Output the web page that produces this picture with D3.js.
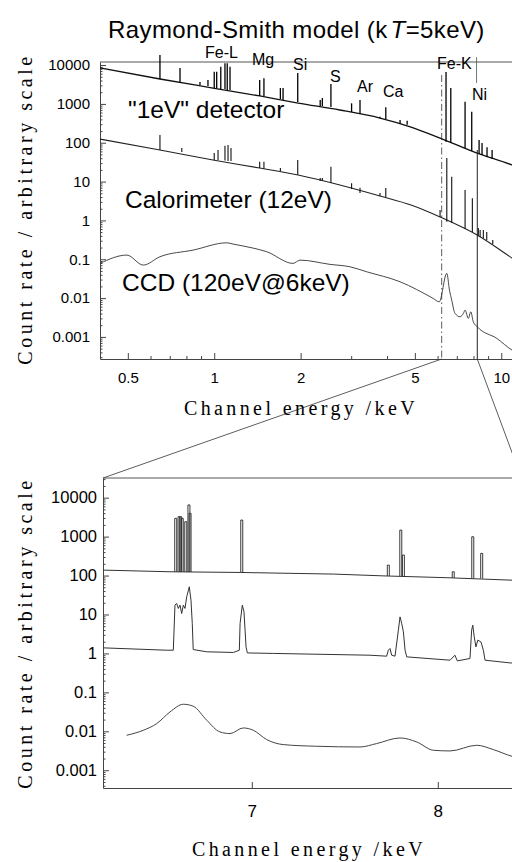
<!DOCTYPE html>
<html>
<head>
<meta charset="utf-8">
<script src="https://cdn.jsdelivr.net/npm/d3@7"></script>
<style>
  body { margin: 0; background: #fff; }
  svg { display: block; }
  .sans { font-family: "Liberation Sans", Arial, sans-serif; }
  .serif { font-family: "Liberation Serif", "Times New Roman", serif; }
</style>
</head>
<body>
<div id="chart"></div>
<script>
// ---- values ----

// upper panel, full band (keV, log-log)
var topEnergy     = [0.4, 0.647, 0.99, 1.44, 1.96, 2.74, 3.78, 4.85, 6.12, 8.24, 10.9, 12.0];
var top1eVCont    = [8500, 4380, 2560, 1600, 1050, 697, 433, 254, 132, 54, 26.7, 19.8];
var topCalCont    = [124, 64.9, 35.9, 22.3, 14.7, 8.14, 4.24, 2.48, 1.22, 0.419, 0.107, 0.0667];

// [energy, base, peak]
var top1eVLines = [
  [0.647, 4380, 18200], [0.760, 3660, 8400], [0.892, 3070, 3660], [0.951, 2890, 4120],
  [1.00, 2560, 6740], [1.02, 2560, 6740], [1.054, 2420, 9080], [1.09, 2420, 11100],
  [1.11, 2280, 11100], [1.135, 2280, 9080], [1.44, 1600, 4120], [1.49, 1600, 4560],
  [1.70, 1340, 2560], [1.737, 1260, 2560], [1.954, 1120, 6250], [2.34, 883, 1260],
  [2.38, 883, 1420], [2.55, 832, 3250], [3.01, 618, 1035], [3.22, 548, 1260],
  [3.78, 433, 470], [3.96, 408, 817], [4.44, 303, 385], [4.70, 290, 370],
  [6.42, 106, 6600], [6.67, 98, 2560], [7.48, 73, 1140], [7.89, 61, 630],
  [8.37, 51, 117], [8.57, 48, 98], [8.92, 43, 77], [9.29, 38, 65]
];
var topCalLines = [
  [0.647, 64.9, 158], [0.771, 57.7, 73], [1.00, 36, 54.3], [1.031, 36, 64.9],
  [1.09, 35, 83.7], [1.117, 34, 87.3], [1.144, 34, 73], [1.44, 22.3, 32.4],
  [1.49, 21.5, 32.4], [1.70, 18.7, 22.3], [1.954, 15, 35.9], [2.34, 10.3, 12.3],
  [2.38, 10.3, 12.3], [2.55, 9.16, 24.1], [3.01, 6.43, 9.0], [3.22, 5.06, 6.9],
  [3.78, 4.24, 5.06], [3.96, 3.99, 6.81], [6.12, 1.22, 1.85], [6.46, 0.923, 40.4],
  [6.72, 0.855, 13.3], [7.48, 0.598, 6.05], [7.93, 0.501, 3.70], [8.32, 0.395, 0.635],
  [8.44, 0.372, 0.564], [8.66, 0.351, 0.564], [8.90, 0.312, 0.501], [9.34, 0.246, 0.312]
];
var topCCD = [
  [0.4, 0.0782], [0.496, 0.128], [0.566, 0.0708], [0.647, 0.116], [0.844, 0.172],
  [1.106, 0.265], [1.163, 0.246], [1.365, 0.194], [1.524, 0.156], [1.881, 0.0782],
  [1.99, 0.095], [2.532, 0.0738], [2.97, 0.064], [3.40, 0.0475], [4.44, 0.0263],
  [5.79, 0.00982], [6.08, 0.00802], [6.46, 0.0433], [6.60, 0.0161], [6.72, 0.00887],
  [6.90, 0.00404], [7.19, 0.0033], [7.38, 0.00404], [7.48, 0.00491], [7.68, 0.0030],
  [7.83, 0.00444], [7.99, 0.00245], [8.25, 0.00182], [9.65, 0.000914], [10.9, 0.000457],
  [12.0, 0.00032]
];

// lower panel, Fe-K band (keV, linear)
var bot1eVBase = [[6.2, 138], [6.56, 125], [6.94, 120], [7.44, 109], [7.71, 98], [8.05, 88], [8.40, 76], [8.45, 75]];
var bot1eVLines = [
  [6.591, 125, 2940], [6.609, 125, 3240], [6.618, 125, 3240], [6.626, 125, 2940],
  [6.645, 124, 2410], [6.662, 124, 6500], [6.668, 124, 3960], [6.946, 120, 2660],
  [7.734, 98, 185], [7.801, 97, 1470], [7.815, 97, 336], [8.083, 87, 125],
  [8.188, 85, 990], [8.236, 84, 371]
];
var botCal = [
  [6.20, 1.39], [6.542, 1.21], [6.578, 1.21], [6.587, 17.4], [6.596, 19.2], [6.605, 14.3],
  [6.614, 17.4], [6.623, 10.6], [6.632, 17.4], [6.641, 14.3], [6.650, 28.4], [6.664, 51.4],
  [6.673, 23.4], [6.680, 5.89], [6.685, 1.26], [6.758, 1.10], [6.901, 1.06], [6.933, 1.21],
  [6.937, 5.89], [6.949, 17.4], [6.958, 11.7], [6.969, 1.47], [6.976, 1.03], [7.116, 1.00],
  [7.635, 0.90], [7.725, 0.85], [7.734, 1.21], [7.743, 1.34], [7.752, 0.90], [7.770, 0.85],
  [7.788, 3.96], [7.797, 8.69], [7.806, 5.89], [7.815, 3.58], [7.824, 1.21], [7.833, 0.815],
  [8.066, 0.670], [8.092, 0.90], [8.105, 0.643], [8.173, 0.741], [8.182, 3.96], [8.188, 5.32],
  [8.196, 2.66], [8.205, 1.47], [8.215, 2.19], [8.232, 1.98], [8.245, 1.21], [8.254, 0.670],
  [8.388, 0.571], [8.45, 0.55]
];
var botCCD = [
  [6.327, 0.00791], [6.417, 0.01064], [6.489, 0.0158], [6.560, 0.0314], [6.632, 0.0495],
  [6.685, 0.0441], [6.758, 0.0192], [6.829, 0.00962], [6.883, 0.00875], [6.954, 0.0122],
  [7.008, 0.01064], [7.080, 0.00614], [7.169, 0.00456], [7.349, 0.00413], [7.582, 0.00396],
  [7.671, 0.00484], [7.797, 0.00675], [7.887, 0.00532], [7.976, 0.00326], [8.066, 0.00313],
  [8.209, 0.00438], [8.298, 0.0034], [8.399, 0.00228], [8.45, 0.0020]
];

// ticks and labels
var yTickValues = [1e4, 1e3, 1e2, 10, 1, 0.1, 0.01, 0.001];
var yTickLabels = ["10000", "1000", "100", "10", "1", "0.1", "0.01", "0.001"];
var topXTicks = [0.5, 1, 2, 5, 10];
var topXTickLabels = ["0.5", "1", "2", "5", "10"];
var botXTicks = [7, 8];
var botXTickLabels = ["7", "8"];
var zoomEdges = [6.2, 8.25];          // band marked on the upper panel
var zoomMarkerTops = [5550, 65];      // where the marker lines start
var elementLabels = [
  ["Fe-L", 205, 58], ["Mg", 252, 65], ["Si", 293, 70], ["S", 330, 82],
  ["Ar", 357, 92], ["Ca", 383, 97], ["Fe-K", 437, 69], ["Ni", 472, 100]
];

// ---- layout ----
var svg = d3.select("#chart").append("svg")
  .attr("width", 512)
  .attr("height", 862);

var xTop = d3.scaleLog().domain([0.4, 12]).range([100, 524]);
var yTop = d3.scaleLog().domain([2.7e-4, 1.2e4]).range([359, 62]);
var xBot = d3.scaleLinear().domain([6.2, 8.45]).range([103, 521.5]);
var yBot = d3.scaleLog().domain([3.5e-4, 3.2e4]).range([788, 478]);

function minorLogTicks(scale) {
  var dom = scale.domain(), out = [];
  for (var k = -5; k <= 5; k++) {
    for (var m = 2; m <= 9; m++) {
      var v = m * Math.pow(10, k);
      if (v >= dom[0] && v <= dom[1]) out.push(v);
    }
  }
  return out;
}

function styleAxis(g, size) {
  g.attr("font-family", "Liberation Sans, Arial, sans-serif")
   .attr("font-size", size)
   .attr("color", "#000");
  g.selectAll("path").attr("stroke", "#444");
  g.selectAll("line").attr("stroke", "#444");
}

function drawFrame(x, y, opts) {
  var x0 = x.range()[0], x1 = x.range()[1], y0 = y.range()[0], y1 = y.range()[1];

  // top frame line
  svg.append("line")
    .attr("x1", x0).attr("x2", x1).attr("y1", y1).attr("y2", y1)
    .attr("stroke", "#555").attr("stroke-width", 1);

  // left axis, majors with labels
  var gy = svg.append("g")
    .attr("transform", "translate(" + x0 + ",0)")
    .call(d3.axisLeft(y).tickValues(yTickValues).tickSize(-6).tickSizeOuter(0)
      .tickPadding(opts.yPad)
      .tickFormat(function(d, i) { return yTickLabels[i]; }));
  styleAxis(gy, opts.yFont);

  // left axis, minors
  var gym = svg.append("g")
    .attr("transform", "translate(" + x0 + ",0)")
    .call(d3.axisLeft(y).tickValues(minorLogTicks(y)).tickSize(-2.5).tickSizeOuter(0).tickFormat(""));
  styleAxis(gym, opts.yFont);
  gym.select(".domain").remove();

  // bottom axis
  var gx = svg.append("g")
    .attr("transform", "translate(0," + y0 + ")")
    .call(d3.axisBottom(x).tickValues(opts.xTicks).tickSize(-6).tickSizeOuter(0)
      .tickPadding(opts.xPad)
      .tickFormat(function(d, i) { return opts.xLabels[i]; }));
  styleAxis(gx, opts.xFont);

  if (opts.xMinor) {
    var gxm = svg.append("g")
      .attr("transform", "translate(0," + y0 + ")")
      .call(d3.axisBottom(x).tickValues(opts.xMinor).tickSize(-3).tickSizeOuter(0).tickFormat(""));
    styleAxis(gxm, opts.xFont);
    gxm.select(".domain").remove();
  }
}

// top panel frame
drawFrame(xTop, yTop, {
  yPad: 10, yFont: 15, xPad: 13, xFont: 15,
  xTicks: topXTicks, xLabels: topXTickLabels,
  xMinor: xTop.ticks().filter(function(d) { return topXTicks.indexOf(d) < 0; })
});

// bottom panel frame
drawFrame(xBot, yBot, {
  yPad: 6, yFont: 16.5, xPad: 17, xFont: 17,
  xTicks: botXTicks, xLabels: botXTickLabels
});

// ---- upper panel curves ----
var lineTop = d3.line()
  .x(function(d) { return xTop(d[0]); })
  .y(function(d) { return yTop(d[1]); })
  .curve(d3.curveMonotoneX);

svg.append("path")
  .datum(topEnergy.map(function(e, i) { return [e, top1eVCont[i]]; }))
  .attr("d", lineTop)
  .attr("fill", "none").attr("stroke", "#111").attr("stroke-width", 1.3);

svg.append("path")
  .datum(topEnergy.map(function(e, i) { return [e, topCalCont[i]]; }))
  .attr("d", lineTop)
  .attr("fill", "none").attr("stroke", "#222").attr("stroke-width", 1.1);

svg.append("path")
  .datum(topCCD)
  .attr("d", lineTop)
  .attr("fill", "none").attr("stroke", "#333").attr("stroke-width", 0.9);

svg.append("g").selectAll("line")
  .data(top1eVLines)
  .join("line")
  .attr("x1", function(d) { return xTop(d[0]); })
  .attr("x2", function(d) { return xTop(d[0]); })
  .attr("y1", function(d) { return yTop(d[1]); })
  .attr("y2", function(d) { return yTop(d[2]); })
  .attr("stroke", "#000").attr("stroke-width", 1.3);

svg.append("g").selectAll("line")
  .data(topCalLines)
  .join("line")
  .attr("x1", function(d) { return xTop(d[0]); })
  .attr("x2", function(d) { return xTop(d[0]); })
  .attr("y1", function(d) { return yTop(d[1]); })
  .attr("y2", function(d) { return yTop(d[2]); })
  .attr("stroke", "#111").attr("stroke-width", 1.1);

// band markers and the connectors to the lower panel
svg.append("line")
  .attr("x1", xTop(zoomEdges[0])).attr("x2", xTop(zoomEdges[0]))
  .attr("y1", yTop(zoomMarkerTops[0])).attr("y2", yTop.range()[0])
  .attr("stroke", "#333").attr("stroke-width", 0.8)
  .style("stroke-dasharray", "7,3,1.5,3");

svg.append("line")
  .attr("x1", xTop(zoomEdges[1])).attr("x2", xTop(zoomEdges[1]))
  .attr("y1", yTop(zoomMarkerTops[1])).attr("y2", yTop.range()[0])
  .attr("stroke", "#222").attr("stroke-width", 1);

// leader between Fe-K and Ni
svg.append("line")
  .attr("x1", xTop(8.2)).attr("x2", xTop(8.2))
  .attr("y1", yTop(16000)).attr("y2", yTop(3450))
  .attr("stroke", "#555").attr("stroke-width", 0.8);

svg.append("line")
  .attr("x1", xTop(zoomEdges[0])).attr("y1", yTop.range()[0])
  .attr("x2", xBot.range()[0]).attr("y2", yBot.range()[1])
  .attr("stroke", "#333").attr("stroke-width", 0.8);

svg.append("line")
  .attr("x1", xTop(zoomEdges[1])).attr("y1", yTop.range()[0])
  .attr("x2", xBot.range()[1]).attr("y2", yBot.range()[1])
  .attr("stroke", "#333").attr("stroke-width", 0.8);

// ---- lower panel curves ----
var lineBot = d3.line()
  .x(function(d) { return xBot(d[0]); })
  .y(function(d) { return yBot(d[1]); });

svg.append("path")
  .datum(bot1eVBase)
  .attr("d", lineBot)
  .attr("fill", "none").attr("stroke", "#333").attr("stroke-width", 1);

svg.append("g").selectAll("path")
  .data(bot1eVLines)
  .join("path")
  .attr("d", function(d) {
    var x = xBot(d[0]), b = yBot(d[1]), t = yBot(d[2]);
    return "M" + (x - 1) + "," + b + "V" + t + "H" + (x + 1) + "V" + b;
  })
  .attr("fill", "none").attr("stroke", "#222").attr("stroke-width", 0.9);

svg.append("path")
  .datum(botCal)
  .attr("d", lineBot)
  .attr("fill", "none").attr("stroke", "#333").attr("stroke-width", 1);

svg.append("path")
  .datum(botCCD)
  .attr("d", lineBot.curve(d3.curveMonotoneX))
  .attr("fill", "none").attr("stroke", "#444").attr("stroke-width", 1);

// ---- text ----
var title = svg.append("text")
  .attr("class", "sans")
  .attr("x", 108).attr("y", 38)
  .attr("font-size", 24)
  .attr("letter-spacing", 0.4);
title.append("tspan").text("Raymond-Smith model (k");
title.append("tspan").attr("dx", 3).attr("font-style", "italic").text("T");
title.append("tspan").text("=5keV)");

svg.append("g").selectAll("text")
  .data(elementLabels)
  .join("text")
  .attr("class", "sans")
  .attr("x", function(d) { return d[1]; })
  .attr("y", function(d) { return d[2]; })
  .attr("font-size", 16)
  .text(function(d) { return d[0]; });

svg.append("text").attr("class", "sans")
  .attr("x", 128).attr("y", 118).attr("font-size", 24.5)
  .text("\"1eV\" detector");

svg.append("text").attr("class", "sans")
  .attr("x", 125).attr("y", 208).attr("font-size", 24.5)
  .text("Calorimeter (12eV)");

svg.append("text").attr("class", "sans")
  .attr("x", 122).attr("y", 291).attr("font-size", 24.5)
  .text("CCD (120eV@6keV)");

// axis titles
svg.append("text").attr("class", "serif")
  .attr("x", 301).attr("y", 415)
  .attr("text-anchor", "middle").attr("font-size", 20).attr("letter-spacing", 3.4)
  .text("Channel energy /keV");

svg.append("text").attr("class", "serif")
  .attr("x", 309).attr("y", 856)
  .attr("text-anchor", "middle").attr("font-size", 20).attr("letter-spacing", 3.4)
  .text("Channel energy /keV");

svg.append("text").attr("class", "serif")
  .attr("x", -209).attr("y", 32)
  .attr("transform", "rotate(-90)")
  .attr("text-anchor", "middle").attr("font-size", 20).attr("letter-spacing", 3.5)
  .text("Count rate / arbitrary scale");

svg.append("text").attr("class", "serif")
  .attr("x", -633).attr("y", 32)
  .attr("transform", "rotate(-90)")
  .attr("text-anchor", "middle").attr("font-size", 20).attr("letter-spacing", 3.5)
  .text("Count rate / arbitrary scale");
</script>
</body>
</html>
